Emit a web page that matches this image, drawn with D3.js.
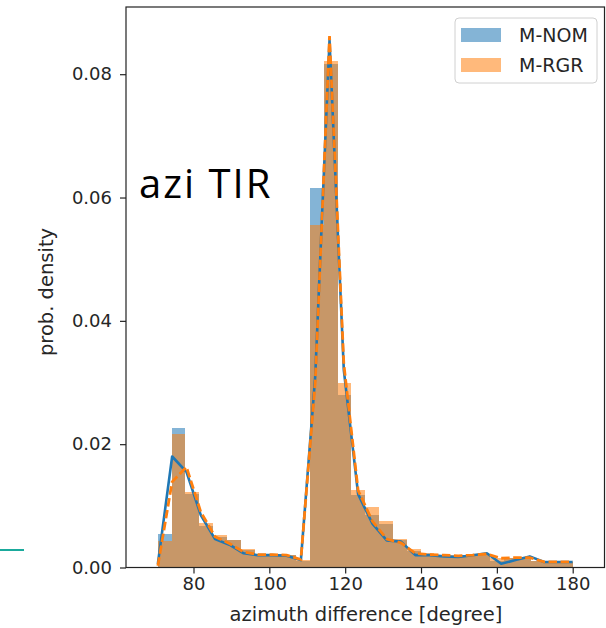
<!DOCTYPE html>
<html><head><meta charset="utf-8">
<script src="https://cdn.jsdelivr.net/npm/d3@7"></script>
<style>body{margin:0;background:#fff}svg{display:block}</style>
</head><body><svg id="c" width="606" height="628"></svg>
<script>
// ---- data ----
const binEdges = [70.6, 74.25, 77.89, 81.54, 85.19, 88.83, 92.48, 96.13, 99.77, 103.42, 107.07, 110.71, 114.36, 118.01, 121.65, 125.3, 128.95, 132.59, 136.24, 139.89, 143.53, 147.18, 150.83, 154.47, 158.12, 161.77, 165.41, 169.06, 172.71, 176.35, 180.0];
const nomHist = [0.0054, 0.0227, 0.0120, 0.0068, 0.0050, 0.0044, 0.0028, 0.0022, 0.0022, 0.0020, 0.0010, 0.0616, 0.0816, 0.0280, 0.0118, 0.0085, 0.0070, 0.0045, 0.0027, 0.0022, 0.0020, 0.0018, 0.0020, 0.0022, 0.0010, 0.0015, 0.0016, 0.0010, 0.0009, 0.0009];
const rgrHist = [0.0043, 0.0217, 0.0122, 0.0072, 0.0052, 0.0045, 0.0030, 0.0022, 0.0022, 0.0020, 0.0012, 0.0555, 0.0822, 0.0300, 0.0126, 0.0098, 0.0075, 0.0047, 0.0030, 0.0023, 0.0021, 0.0020, 0.0021, 0.0022, 0.0016, 0.0016, 0.0015, 0.0010, 0.0009, 0.0009];
const kdeX = [70.6, 74.37, 78.14, 81.92, 85.69, 89.46, 93.23, 97.01, 100.78, 104.55, 108.32, 112.1, 115.87, 119.64, 123.41, 127.19, 130.96, 134.73, 138.5, 142.28, 146.05, 149.82, 153.59, 157.37, 161.14, 164.91, 168.68, 172.46, 176.23, 180.0];
const nomKde = [0.0006, 0.0180, 0.0155, 0.0085, 0.0046, 0.0037, 0.0023, 0.0020, 0.0020, 0.0019, 0.0012, 0.0310, 0.0855, 0.0320, 0.0119, 0.0071, 0.0044, 0.0042, 0.0020, 0.0020, 0.0018, 0.0017, 0.0020, 0.0023, 0.0006, 0.0012, 0.0018, 0.0009, 0.0009, 0.0009];
const rgrKde = [0.0003, 0.0139, 0.0163, 0.0090, 0.0050, 0.0039, 0.0025, 0.0021, 0.0021, 0.0020, 0.0013, 0.0300, 0.0862, 0.0330, 0.0125, 0.0075, 0.0046, 0.0040, 0.0023, 0.0021, 0.0020, 0.0019, 0.0020, 0.0022, 0.0015, 0.0016, 0.0016, 0.0009, 0.0009, 0.0009];
const xTicks = [80, 100, 120, 140, 160, 180];
const yTicks = [0.00, 0.02, 0.04, 0.06, 0.08];
const seriesNames = ["M-NOM", "M-RGR"];
const seriesColors = ["#1f77b4", "#ff7f0e"];

// ---- layout ----
const frame = {left: 126, right: 604.5, top: 7, bottom: 567.5};
const x = d3.scaleLinear().domain([80, 180]).range([193.5, 572.7]);
const y = d3.scaleLinear().domain([0, 0.08]).range([567.5, 74.2]);
const svg = d3.select("#c");
const font = "'DejaVu Sans', sans-serif";
const barAlpha = 0.55;

svg.append("defs").append("clipPath").attr("id", "clip")
  .append("rect").attr("x", frame.left).attr("y", frame.top)
  .attr("width", frame.right - frame.left).attr("height", frame.bottom - frame.top);

const plotG = svg.append("g").attr("clip-path", "url(#clip)");

function drawHist(vals, color) {
  plotG.append("g").selectAll("rect").data(vals).join("rect")
    .attr("x", (d, i) => x(binEdges[i]))
    .attr("width", (d, i) => x(binEdges[i + 1]) - x(binEdges[i]))
    .attr("y", d => y(d))
    .attr("height", d => y(0) - y(d))
    .attr("fill", color).attr("fill-opacity", barAlpha)
    .attr("shape-rendering", "crispEdges");
}
drawHist(nomHist, seriesColors[0]);
drawHist(rgrHist, seriesColors[1]);

const line = d3.line().x(d => x(d[0])).y(d => y(d[1]));
plotG.append("path").datum(kdeX.map((v, i) => [v, nomKde[i]]))
  .attr("d", line).attr("fill", "none").attr("stroke", seriesColors[0])
  .attr("stroke-width", 2.6).attr("stroke-linejoin", "round");
plotG.append("path").datum(kdeX.map((v, i) => [v, rgrKde[i]]))
  .attr("d", line).attr("fill", "none").attr("stroke", seriesColors[1])
  .attr("stroke-width", 2.8).attr("stroke-dasharray", "8.5,3.5");

// axes
const xAxis = svg.append("g").attr("transform", `translate(0,${frame.bottom})`)
  .call(d3.axisBottom(x).tickValues(xTicks).tickSize(6).tickPadding(4).tickFormat(d3.format("d")));
const yAxis = svg.append("g").attr("transform", `translate(${frame.left},0)`)
  .call(d3.axisLeft(y).tickValues(yTicks).tickSize(6).tickPadding(8).tickFormat(d3.format(".2f")));
[xAxis, yAxis].forEach(a => {
  a.select(".domain").remove();
  a.selectAll("line").attr("stroke", "#222").attr("stroke-width", 1.2);
  a.selectAll("text").attr("fill", "#262626").style("font-family", font).style("font-size", "18px");
});

// frame
svg.append("rect").attr("x", frame.left).attr("y", frame.top)
  .attr("width", frame.right - frame.left).attr("height", frame.bottom - frame.top)
  .attr("fill", "none").attr("stroke", "#222").attr("stroke-width", 1.2);

// labels
svg.append("text").attr("x", 366).attr("y", 621).attr("text-anchor", "middle")
  .style("font-family", font).style("font-size", "19.5px").attr("fill", "#262626")
  .text("azimuth difference [degree]");
svg.append("text").attr("transform", "translate(53,292) rotate(-90)").attr("text-anchor", "middle")
  .style("font-family", font).style("font-size", "19.5px").attr("fill", "#262626")
  .text("prob. density");

// annotation
svg.append("text").attr("x", 139).attr("y", 198)
  .style("font-family", "'Open Sans', sans-serif").style("font-size", "40px")
  .style("letter-spacing", "2px").attr("fill", "#000")
  .text("azi TIR");

// legend
const lg = svg.append("g");
lg.append("rect").attr("x", 455).attr("y", 18).attr("width", 142).attr("height", 65)
  .attr("rx", 4).attr("fill", "#fff").attr("fill-opacity", 0.8).attr("stroke", "#d0d0d0");
seriesNames.forEach((n, i) => {
  lg.append("rect").attr("x", 461).attr("y", 28 + i * 30).attr("width", 40).attr("height", 14)
    .attr("fill", seriesColors[i]).attr("fill-opacity", barAlpha);
  lg.append("text").attr("x", 519).attr("y", 42 + i * 30)
    .style("font-family", font).style("font-size", "19px").attr("fill", "#262626").text(n);
});

// decorative teal stroke at left edge
svg.append("line").attr("x1", 0).attr("x2", 24).attr("y1", 550).attr("y2", 550)
  .attr("stroke", "#1aaa9c").attr("stroke-width", 2);
</script></body></html>
